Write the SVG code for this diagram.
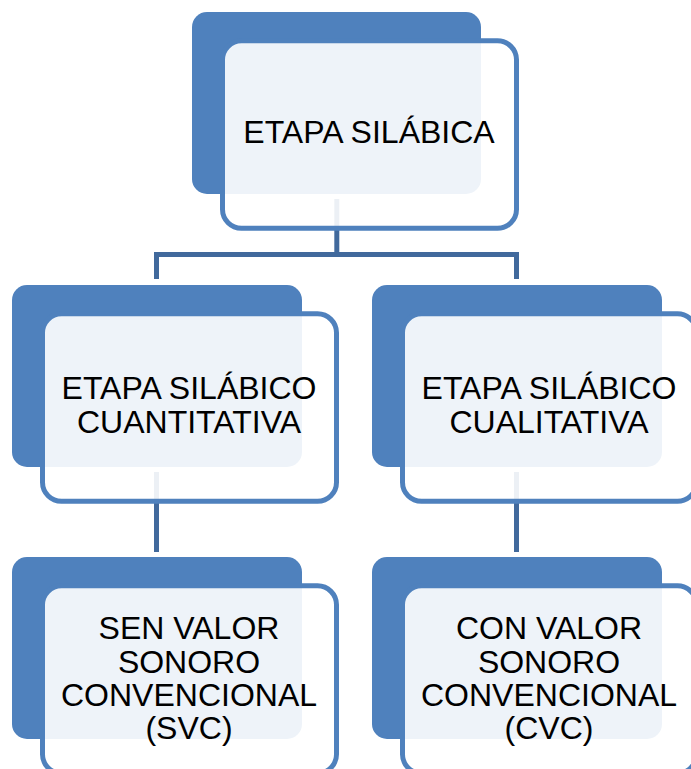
<svg xmlns="http://www.w3.org/2000/svg" width="691" height="769" viewBox="0 0 691 769">
  <style>
    .back { fill: #4F81BD; }
    .front { fill: #FFFFFF; fill-opacity: 0.9; stroke: #4F81BD; stroke-width: 5; }
    .conn { fill: none; stroke: #41699C; stroke-width: 5; stroke-linejoin: miter; }
    .lbl { font-family: "Liberation Sans", Arial, sans-serif; font-size: 32px; fill: #000000; text-anchor: middle; }
  </style>
  <rect width="691" height="769" fill="#FFFFFF"/>
  <g id="connectors">
    <path class="conn" d="M336.8,199 V254.5"/>
    <path class="conn" d="M156.5,279 V254.5 H516.5 V279"/>
    <path class="conn" d="M156.5,472 V552"/>
    <path class="conn" d="M516.5,472 V552"/>
  </g>
  <g id="node-etapa-silabica">
    <rect class="back" x="192" y="12" width="289" height="182" rx="15"/>
    <rect class="front" x="222.5" y="40.8" width="294" height="187.5" rx="19"/>
    <text class="lbl" x="369" y="143.3">ETAPA SILÁBICA</text>
  </g>
  <g id="node-cuantitativa">
    <rect class="back" x="12" y="285" width="290" height="182" rx="15"/>
    <rect class="front" x="42.5" y="313.8" width="294" height="187.5" rx="19"/>
    <text class="lbl" x="189" y="399.3">ETAPA SILÁBICO</text>
    <text class="lbl" x="189" y="433.3">CUANTITATIVA</text>
  </g>
  <g id="node-cualitativa">
    <rect class="back" x="372" y="285" width="290" height="182" rx="15"/>
    <rect class="front" x="402.5" y="313.8" width="294" height="187.5" rx="19"/>
    <text class="lbl" x="549" y="399.3">ETAPA SILÁBICO</text>
    <text class="lbl" x="549" y="433.3">CUALITATIVA</text>
  </g>
  <g id="node-svc">
    <rect class="back" x="12" y="557" width="290" height="182" rx="15"/>
    <rect class="front" x="42.5" y="585.8" width="294" height="187.5" rx="19"/>
    <text class="lbl" x="189" y="639.3">SEN VALOR</text>
    <text class="lbl" x="189" y="672.6">SONORO</text>
    <text class="lbl" x="189" y="705.9">CONVENCIONAL</text>
    <text class="lbl" x="189" y="739.2">(SVC)</text>
  </g>
  <g id="node-cvc">
    <rect class="back" x="372" y="557" width="290" height="182" rx="15"/>
    <rect class="front" x="402.5" y="585.8" width="294" height="187.5" rx="19"/>
    <text class="lbl" x="549" y="639.3">CON VALOR</text>
    <text class="lbl" x="549" y="672.6">SONORO</text>
    <text class="lbl" x="549" y="705.9">CONVENCIONAL</text>
    <text class="lbl" x="549" y="739.2">(CVC)</text>
  </g>
</svg>
